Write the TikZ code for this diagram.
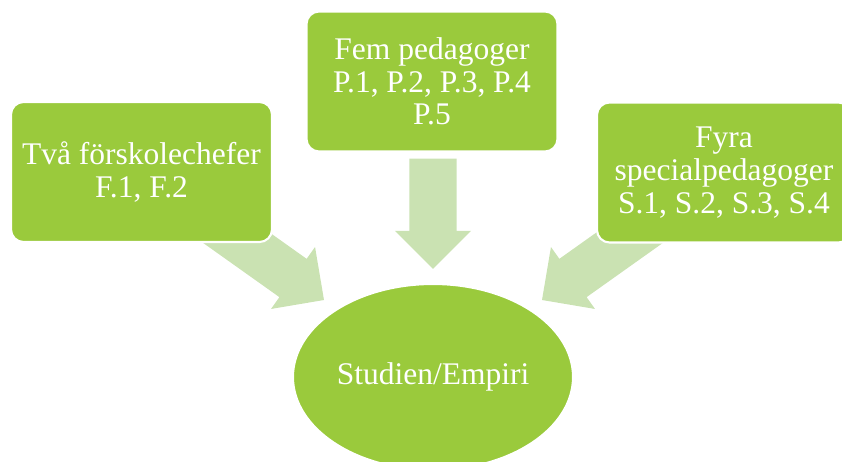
\documentclass[tikz,border=0pt]{standalone}
\usepackage{fontspec}
\setmainfont{Liberation Serif}
\usetikzlibrary{calc,shapes.geometric,backgrounds}
\definecolor{boxGreen}{RGB}{154,202,60}
\definecolor{arrowGreen}{RGB}{202,226,178}
\newcommand{\gbox}[4]{%
 \node[draw=white, line width=1.5pt, fill=boxGreen, rounded corners=9pt, minimum width=#3cm, minimum height=3.5cm, inner sep=0pt, align=center, text=white, font=\fontsize{22.4}{23.2}\selectfont] (#2) at (#1) {#4};}
\newcommand{\bigarrow}[2]{%
 \coordinate (h) at ($(#2)!0.95cm!(#1)$);
 \fill[arrowGreen] ($(#1)!0.5875cm!90:(#2)$) -- ($(h)!0.5875cm!90:(#2)$) -- ($(h)!0.95cm!90:(#2)$) -- (#2) -- ($(h)!0.95cm!-90:(#2)$) -- ($(h)!0.5875cm!-90:(#2)$) -- ($(#1)!0.5875cm!-90:(#2)$) -- cycle;}

\begin{document}
\begin{tikzpicture}[x=0.025cm, y=-0.025cm]
\useasboundingbox (0,0) rectangle (842,461);
\clip (0,0) rectangle (842,461);
\gbox{141.5,172}{chefer}{6.525}{Två förskolechefer\\F.1, F.2}
\gbox{432,81.5}{pedagoger}{6.275}{Fem pedagoger\\P.1, P.2, P.3, P.4\\P.5}
\gbox{724,172.5}{special}{6.35}{Fyra\\specialpedagoger\\S.1, S.2, S.3, S.4}
\node[ellipse, draw=white, line width=1.5pt, fill=boxGreen, minimum width=7cm, minimum height=4.65cm, inner sep=0pt, text=white, font=\fontsize{22.4}{23.2}\selectfont] (studien) at (433,377) {Studien/Empiri};
% arrows below the boxes
\coordinate (t1) at ($(chefer)+(61.5,42)$);
\coordinate (e1) at ($(studien)+(-109,-77)$);
\coordinate (t2) at ($(pedagoger.south)+(1,6)$);
\coordinate (e2) at ($(studien.north)+(0,-14)$);
\coordinate (t3) at ($(special)+(-61,41.5)$);
\coordinate (e3) at ($(studien)+(109,-77)$);
\begin{pgfonlayer}{background}
\bigarrow{t1}{e1}
\bigarrow{t2}{e2}
\bigarrow{t3}{e3}
\end{pgfonlayer}
\end{tikzpicture}
\end{document}
